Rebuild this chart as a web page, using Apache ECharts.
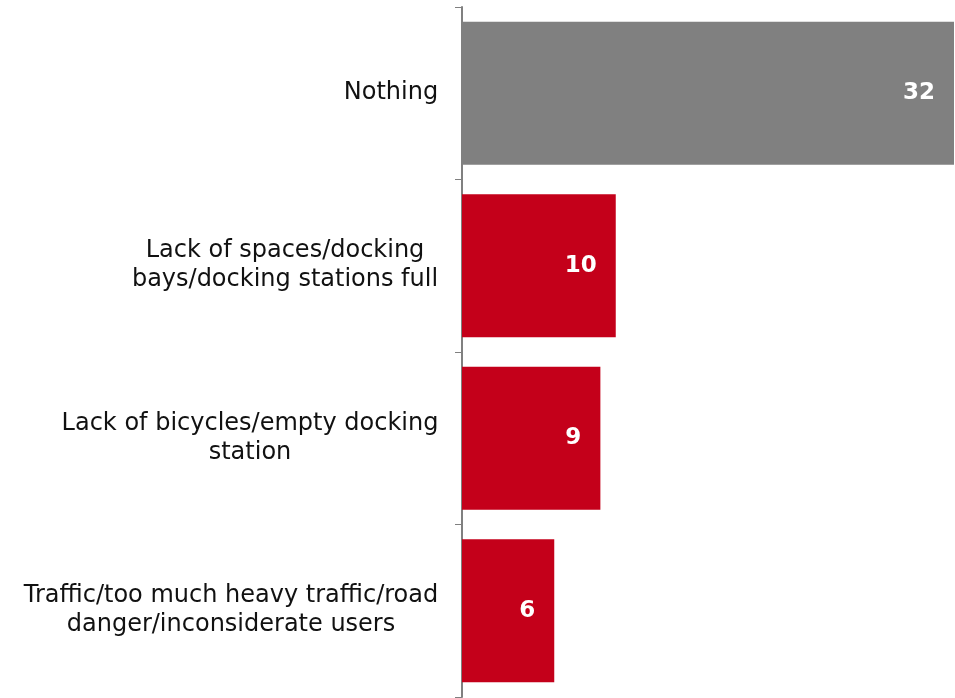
<!DOCTYPE html>
<html><head><meta charset="utf-8">
<script src="https://cdn.jsdelivr.net/npm/echarts@6/dist/echarts.min.js"></script>
<style>html,body{margin:0;padding:0;background:#fff}#c{width:955px;height:698px}</style>
</head><body><div id="c"></div>
<script>
const categories = ["Nothing", "Lack of spaces/docking\nbays/docking stations full", "Lack of bicycles/empty docking\nstation", "Traffic/too much heavy traffic/road\ndanger/inconsiderate users"];
const values = [32, 10, 9, 6];
const barColors = ["#808080", "#C4001A", "#C4001A", "#C4001A"];

const FONT = 'DejaVu Sans';
const FS = 24;
const ctx = document.createElement('canvas').getContext('2d');
ctx.font = FS + 'px "' + FONT + '"';
const rich = {};
categories.forEach((c, i) => {
  const w = Math.max(...c.split('\n').map(l => ctx.measureText(l).width));
  rich['r' + i] = {width: Math.ceil(w) + 1, align: 'center', fontFamily: FONT, fontSize: FS, lineHeight: 29, color: '#111'};
});

const chart = echarts.init(document.getElementById('c'));
chart.setOption({
  animation: false,
  grid: {left: 462, right: 1, top: 7, bottom: 1, containLabel: false},
  xAxis: {type: 'value', min: 0, max: 32, show: false},
  yAxis: {
    type: 'category', data: categories, inverse: true,
    axisLine: {show: true, lineStyle: {color: '#808080', width: 2}},
    axisTick: {show: true, length: 7, lineStyle: {color: '#808080', width: 1}},
    axisLabel: {
      margin: 23, color: '#111', fontFamily: FONT, fontSize: FS, lineHeight: 29, align: 'right',
      formatter: (v, i) => v.split('\n').map(l => '{r' + i + '|' + l + '}').join('\n'),
      rich: rich
    }
  },
  series: [{
    type: 'bar', barCategoryGap: '17%',
    data: values.map((v, i) => ({value: v, itemStyle: {color: barColors[i]}})),
    label: {show: true, position: 'insideRight', distance: 19, color: '#fff', fontFamily: FONT, fontWeight: 'bold', fontSize: 23}
  }]
});
</script></body></html>
